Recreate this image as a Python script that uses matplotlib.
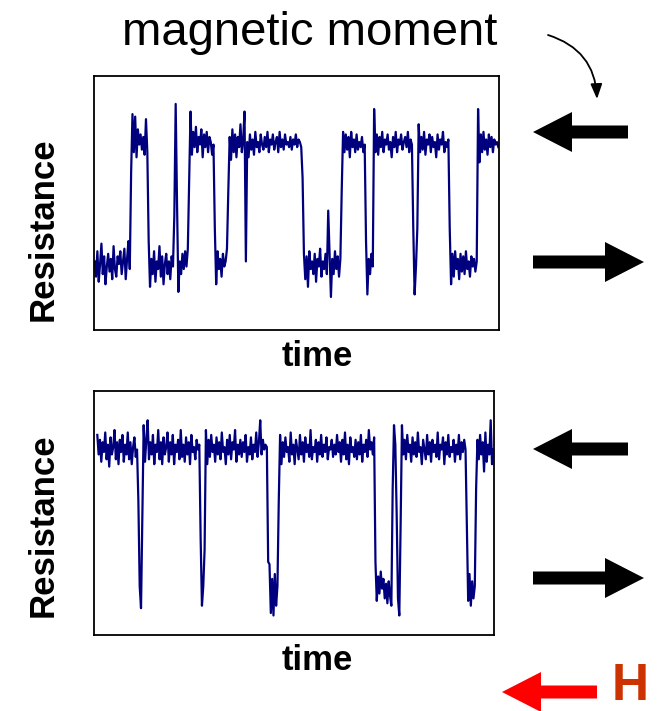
import matplotlib
matplotlib.use("Agg")
import matplotlib.pyplot as plt
import numpy as np
from matplotlib.patches import FancyArrow

plt.rcParams['font.family'] = ['Liberation Sans', 'DejaVu Sans']

# resistance traces (arbitrary units, 0-100), one value per time sample
upper_trace = [
    27, 21, 31, 19, 26, 34, 22, 29, 18, 25, 30, 23, 28, 20, 33, 24, 21, 29,
    26, 31, 22, 27, 32, 20, 28, 35, 24,
    62,
    85, 70, 84, 68, 79, 73, 77, 71, 76, 69, 83, 70,
    35,
    17, 28, 22, 31, 19, 27, 24, 33, 21, 29, 18, 26, 30, 22, 27, 20, 29, 25,
    45, 89, 50, 15,
    27, 22, 30, 24, 31, 25, 32,
    60,
    86, 69, 78, 72, 80, 70, 76, 73, 79, 68, 77, 72, 78, 70, 76, 74, 69, 73,
    40,
    18, 31, 24, 28, 21, 30, 25, 27, 32,
    55, 76,
    67, 79, 70, 77, 68, 76, 72, 81, 70, 75, 86,
    27,
    74, 68, 77, 71, 75, 69, 78, 72, 74, 70, 77, 73, 71, 76, 72, 78, 70, 75,
    73, 77, 71, 74, 76, 70, 78, 72, 75, 71, 77, 73, 74, 72, 76, 71, 75, 73,
    77, 72, 75, 74, 72,
    60, 30,
    20, 29, 17, 31, 24, 27, 22, 30, 19, 28, 25, 32, 21, 27, 24, 30, 22,
    47, 30, 13,
    28, 22, 31, 24, 29, 21, 28,
    55, 78,
    70, 77, 71, 76, 68, 78, 72, 75, 70, 77, 71, 74, 72, 76, 70, 73,
    35, 14, 28, 22, 30, 25,
    87,
    70, 77, 69, 76, 72, 78, 70, 75, 73, 77, 71, 74, 68, 76, 72, 78, 70, 75,
    73, 77, 71, 74, 76, 72, 78, 70, 75, 73,
    40, 14, 25, 40, 81,
    70, 76, 71, 78, 69, 75, 73, 77, 70, 76, 72, 74, 68, 77, 71, 75, 73, 78,
    70, 74, 72, 75,
    40,
    18, 30, 21, 31, 24, 28, 20, 30, 23, 29, 22, 31, 24, 27, 21, 29, 25, 28,
    23, 27,
    87,
    66, 77, 70, 78, 71, 75, 69, 77, 72, 76, 70, 75, 73, 74, 72,
]

lower_trace = [
    82, 74, 80, 71, 79, 75, 83, 72, 78, 69, 81, 74, 77, 84, 72, 79, 70, 80,
    75, 82, 71, 78, 74, 83, 72, 79, 70, 77, 81, 73, 76,
    55, 20, 11, 50,
    86, 71, 80, 88, 72, 79, 74, 82, 70, 78, 75, 84, 72, 79, 70, 81, 74, 77,
    83, 71, 79, 74, 82, 70, 78, 75, 80, 72, 84, 73, 78, 71, 81, 74, 79, 70,
    82, 75, 77, 72, 80, 76, 78,
    40, 12, 20, 35,
    84, 70, 80, 73, 82, 75, 78, 71, 81, 74, 79, 72, 83, 75, 77, 70, 80, 74,
    82, 72, 79, 76, 84, 71, 78, 74, 80, 73, 79, 75, 82, 71, 77, 74, 81, 72,
    78, 75, 83, 73, 79, 88, 74, 80, 76, 78, 77,
    30,
    29, 9, 23, 8, 25, 12, 20,
    55,
    82, 70, 79, 73, 81, 75, 77, 71, 83, 74, 78, 70, 80, 76, 72, 82, 74, 79,
    71, 81, 75, 78, 73, 84, 72, 77, 75, 80, 71, 79, 74, 82, 73, 78, 75, 81,
    72, 77, 76, 80, 73, 78, 74, 82, 75, 79, 71, 80, 74, 83, 72, 78, 70, 81,
    75, 77, 73, 80, 72, 79, 74, 82, 71, 78, 75, 80, 73, 84, 76, 79, 74, 81,
    30,
    14, 24, 17, 26, 19, 23, 15, 21, 13, 22, 16, 12,
    60, 86, 78, 50, 15, 8, 45,
    86, 74, 80, 72, 82, 75, 78, 71, 81, 74, 79, 73, 83, 75, 77, 70, 80, 76,
    72, 82, 74, 79, 71, 80, 75, 78, 73, 83, 72, 78, 76, 81, 70, 79, 74, 82,
    73, 77, 75, 80, 71, 78, 74, 82, 72, 79, 75, 80, 76,
    45,
    14, 25, 12, 22, 15, 20,
    60,
    80, 72, 82, 74, 79, 67, 83, 71, 78, 74, 88, 70, 76,
]

W, H = 658, 711
fig = plt.figure(figsize=(W / 100, H / 100), dpi=100)

# overlay in pixel units for the annotation arrows
ov = fig.add_axes([0, 0, 1, 1])
ov.set_xlim(0, W)
ov.set_ylim(H, 0)
ov.set_axis_off()

line_color = '#00007f'


def trace_axes(rect, values, lead=0.5):
    ax = fig.add_axes(rect)
    ax.plot(np.arange(len(values)), values, color=line_color, lw=1.6)
    ax.set_xlim(-lead, len(values) - 0.5)
    ax.set_ylim(0, 100)
    ax.set_xticks([])
    ax.set_yticks([])
    for sp in ax.spines.values():
        sp.set_linewidth(1.3)
    return ax


def px_rect(x0, y0, x1, y1):
    return [x0 / W, 1 - y1 / H, (x1 - x0) / W, (y1 - y0) / H]


trace_axes(px_rect(94, 76, 499, 330), upper_trace)
trace_axes(px_rect(94, 391, 494, 635), lower_trace, lead=2.5)

# axis labels
for yc in (229, 525):
    fig.text(43 / W, 1 - yc / H, 'Resistance', rotation=90, fontsize=25,
             fontweight='bold', ha='center', va='center')
for yc in (357, 660):
    fig.text(317 / W, 1 - yc / H, 'time', fontsize=25, fontweight='bold',
             ha='center', va='center')

fig.text(310 / W, 1 - 33 / H, 'magnetic moment', fontsize=34,
         ha='center', va='center')

# moment direction arrows
def block_arrow(x_tail, x_tip, y, color='black'):
    ov.add_patch(FancyArrow(x_tail, y, x_tip - x_tail, 0, width=13,
                            head_width=40, head_length=39,
                            length_includes_head=True, color=color, lw=0))


block_arrow(628, 533, 132)
block_arrow(533, 644, 262)
block_arrow(628, 533, 449)
block_arrow(533, 644, 578)
block_arrow(597, 502, 692, color='#ff0000')

ov.annotate('', xy=(597, 99), xytext=(548, 35),
            arrowprops=dict(arrowstyle='-|>,head_length=0.9,head_width=0.35',
                            connectionstyle='arc3,rad=-0.35', color='black',
                            lw=1.3, shrinkA=0, shrinkB=0))

ov.text(630, 687, 'H', fontsize=37, fontweight='bold', color='#cc3300',
        ha='center', va='center')

fig.savefig('out.png', dpi=100)
